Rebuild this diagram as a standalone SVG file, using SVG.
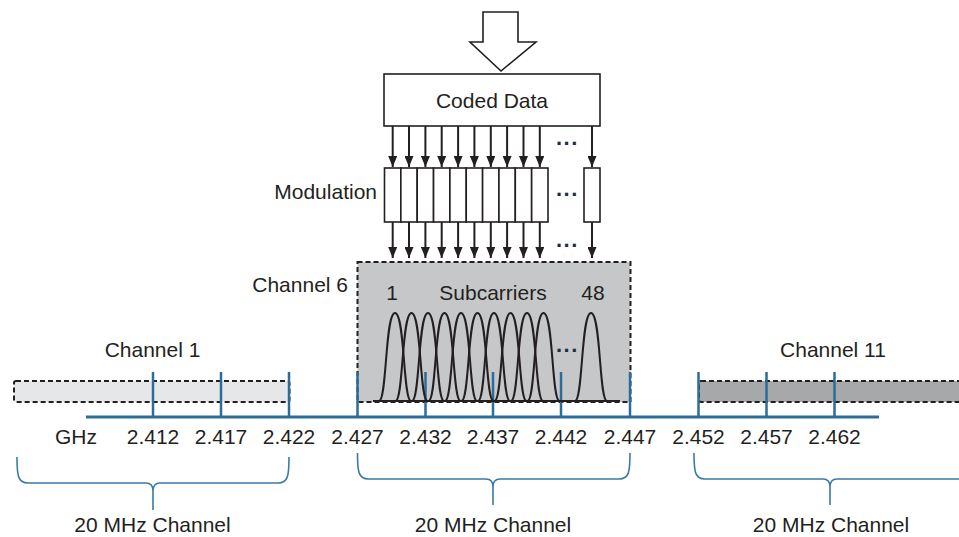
<svg xmlns="http://www.w3.org/2000/svg" width="959" height="537" viewBox="0 0 959 537">
  <defs>
    <marker id="head" viewBox="0 0 11 9" refX="11" refY="4.5" markerWidth="11" markerHeight="9" markerUnits="userSpaceOnUse" orient="auto">
      <path d="M0,0 L11,4.5 L0,9 z" fill="#231f20"/>
    </marker>
  </defs>
  <style>
    text { font-family: "Liberation Sans", Arial, sans-serif; font-size: 21px; fill: #231f20; }
    .mid { text-anchor: middle; }
    .end { text-anchor: end; }
    .dots { font-weight: bold; font-size: 22px; letter-spacing: 1.5px; fill: #1f2d44; }
    .box { fill: #fff; stroke: #231f20; stroke-width: 1.6; }
    .arrow { stroke: #231f20; stroke-width: 2; fill: none; marker-end: url(#head); }
    .band { stroke: #231f20; stroke-width: 2; stroke-dasharray: 5 3; }
    .tick { stroke: #2a6d98; stroke-width: 2.5; }
    .brace { stroke: #3a7ba3; stroke-width: 1.6; fill: none; }
    .bell { stroke: #231f20; stroke-width: 2; fill: none; }
  </style>

  <!-- channel bands -->
  <g id="channel1">
    <rect x="14" y="381" width="275.5" height="21" rx="2" fill="#e6e7e8" class="band"/>
    <text class="mid" x="152.5" y="357">Channel 1</text>
  </g>
  <g id="channel11">
    <rect x="699" y="381" width="290" height="21" rx="2" fill="#a7a8aa" class="band"/>
    <text class="mid" x="833" y="357">Channel 11</text>
  </g>
  <g id="channel6">
    <rect x="357.5" y="262" width="273" height="140" fill="#c6c7c9" class="band"/>
    <text class="end" x="348" y="292">Channel 6</text>
  </g>

  <!-- frequency axis -->
  <g id="axis">
    <line x1="86" y1="417" x2="879" y2="417" stroke="#2a6d98" stroke-width="3"/>
    <line class="tick" x1="153" y1="372" x2="153" y2="417"/>
    <line class="tick" x1="221" y1="372" x2="221" y2="417"/>
    <line class="tick" x1="289" y1="372" x2="289" y2="417"/>
    <line class="tick" x1="357.5" y1="372" x2="357.5" y2="417"/>
    <line class="tick" x1="425.5" y1="372" x2="425.5" y2="417"/>
    <line class="tick" x1="493" y1="372" x2="493" y2="417"/>
    <line class="tick" x1="561" y1="372" x2="561" y2="417"/>
    <line class="tick" x1="630" y1="372" x2="630" y2="417"/>
    <line class="tick" x1="698.5" y1="372" x2="698.5" y2="417"/>
    <line class="tick" x1="766.5" y1="372" x2="766.5" y2="417"/>
    <line class="tick" x1="834.5" y1="372" x2="834.5" y2="417"/>
    <text class="mid" x="76" y="444">GHz</text>
    <text class="mid" x="153" y="444">2.412</text>
    <text class="mid" x="221" y="444">2.417</text>
    <text class="mid" x="289" y="444">2.422</text>
    <text class="mid" x="357.5" y="444">2.427</text>
    <text class="mid" x="425.5" y="444">2.432</text>
    <text class="mid" x="493" y="444">2.437</text>
    <text class="mid" x="561" y="444">2.442</text>
    <text class="mid" x="630" y="444">2.447</text>
    <text class="mid" x="698.5" y="444">2.452</text>
    <text class="mid" x="766.5" y="444">2.457</text>
    <text class="mid" x="834.5" y="444">2.462</text>
  </g>

  <!-- subcarrier spectra -->
  <g id="subcarriers">
    <path class="bell" d="M373,401 H620"/>
    <path class="bell" d="M379,401 C387,401 385,313 395,313 C405,313 403,401 411,401"/>
    <path class="bell" d="M395.5,401 C403.5,401 401.5,313 411.5,313 C421.5,313 419.5,401 427.5,401"/>
    <path class="bell" d="M412,401 C420,401 418,313 428,313 C438,313 436,401 444,401"/>
    <path class="bell" d="M428.5,401 C436.5,401 434.5,313 444.5,313 C454.5,313 452.5,401 460.5,401"/>
    <path class="bell" d="M445,401 C453,401 451,313 461,313 C471,313 469,401 477,401"/>
    <path class="bell" d="M461.5,401 C469.5,401 467.5,313 477.5,313 C487.5,313 485.5,401 493.5,401"/>
    <path class="bell" d="M478,401 C486,401 484,313 494,313 C504,313 502,401 510,401"/>
    <path class="bell" d="M494.5,401 C502.5,401 500.5,313 510.5,313 C520.5,313 518.5,401 526.5,401"/>
    <path class="bell" d="M511,401 C519,401 517,313 527,313 C537,313 535,401 543,401"/>
    <path class="bell" d="M527.5,401 C535.5,401 533.5,313 543.5,313 C553.5,313 551.5,401 559.5,401"/>
    <path class="bell" d="M575,401 C583,401 581,313 591,313 C601,313 599,401 607,401"/>
    <text class="dots" x="556" y="352">...</text>
    <text class="mid" x="392" y="300">1</text>
    <text class="mid" x="493" y="300">Subcarriers</text>
    <text class="mid" x="593" y="300">48</text>
  </g>

  <!-- input arrow and coded data -->
  <g id="input">
    <polygon points="483,12 518,12 518,42 536,42 501,71 470,42 483,42" fill="#fff" stroke="#231f20" stroke-width="1.6"/>
  </g>
  <g id="coded-data">
    <rect class="box" x="384" y="74" width="216" height="52"/>
    <text class="mid" x="492" y="108">Coded Data</text>
  </g>

  <!-- modulators -->
  <g id="modulation">
    <rect class="box" x="384.5" y="168" width="16.35" height="54"/>
    <rect class="box" x="400.85" y="168" width="16.35" height="54"/>
    <rect class="box" x="417.2" y="168" width="16.35" height="54"/>
    <rect class="box" x="433.55" y="168" width="16.35" height="54"/>
    <rect class="box" x="449.9" y="168" width="16.35" height="54"/>
    <rect class="box" x="466.25" y="168" width="16.35" height="54"/>
    <rect class="box" x="482.6" y="168" width="16.35" height="54"/>
    <rect class="box" x="498.95" y="168" width="16.35" height="54"/>
    <rect class="box" x="515.3" y="168" width="16.35" height="54"/>
    <rect class="box" x="531.65" y="168" width="16.35" height="54"/>
    <rect class="box" x="584" y="168" width="16" height="54"/>
    <text class="end" x="377" y="199">Modulation</text>
    <text class="dots" x="556" y="196">...</text>
  </g>

  <!-- connectors -->
  <g id="connectors">
    <line class="arrow" x1="392.7" y1="126" x2="392.7" y2="167"/>
    <line class="arrow" x1="409" y1="126" x2="409" y2="167"/>
    <line class="arrow" x1="425.4" y1="126" x2="425.4" y2="167"/>
    <line class="arrow" x1="441.7" y1="126" x2="441.7" y2="167"/>
    <line class="arrow" x1="458.1" y1="126" x2="458.1" y2="167"/>
    <line class="arrow" x1="474.4" y1="126" x2="474.4" y2="167"/>
    <line class="arrow" x1="490.8" y1="126" x2="490.8" y2="167"/>
    <line class="arrow" x1="507.1" y1="126" x2="507.1" y2="167"/>
    <line class="arrow" x1="523.5" y1="126" x2="523.5" y2="167"/>
    <line class="arrow" x1="539.8" y1="126" x2="539.8" y2="167"/>
    <line class="arrow" x1="592" y1="126" x2="592" y2="167"/>
    <line class="arrow" x1="392.7" y1="222" x2="392.7" y2="258"/>
    <line class="arrow" x1="409" y1="222" x2="409" y2="258"/>
    <line class="arrow" x1="425.4" y1="222" x2="425.4" y2="258"/>
    <line class="arrow" x1="441.7" y1="222" x2="441.7" y2="258"/>
    <line class="arrow" x1="458.1" y1="222" x2="458.1" y2="258"/>
    <line class="arrow" x1="474.4" y1="222" x2="474.4" y2="258"/>
    <line class="arrow" x1="490.8" y1="222" x2="490.8" y2="258"/>
    <line class="arrow" x1="507.1" y1="222" x2="507.1" y2="258"/>
    <line class="arrow" x1="523.5" y1="222" x2="523.5" y2="258"/>
    <line class="arrow" x1="539.8" y1="222" x2="539.8" y2="258"/>
    <line class="arrow" x1="592" y1="222" x2="592" y2="258"/>
    <text class="dots" x="556" y="145">...</text>
    <text class="dots" x="556" y="247">...</text>
  </g>

  <!-- channel width braces -->
  <g id="braces">
    <path class="brace" d="M17,457 C17,476 18,483 28,483 L146,483 Q153,483 153,491 L153,510 M153,491 Q153,483 160,483 L278,483 C288,483 289,476 289,457"/>
    <path class="brace" d="M357.5,453 C357.5,472 358.5,479 368.5,479 L486,479 Q493,479 493,487 L493,505 M493,487 Q493,479 500,479 L619,479 C629,479 630,472 630,453"/>
    <path class="brace" d="M694,453 C694,472 695,479 705,479 L823,479 Q830,479 830,487 L830,505 M830,487 Q830,479 837,479 L970,479"/>
    <text class="mid" x="152.5" y="532">20 MHz Channel</text>
    <text class="mid" x="493" y="532">20 MHz Channel</text>
    <text class="mid" x="831" y="532">20 MHz Channel</text>
  </g>
</svg>
